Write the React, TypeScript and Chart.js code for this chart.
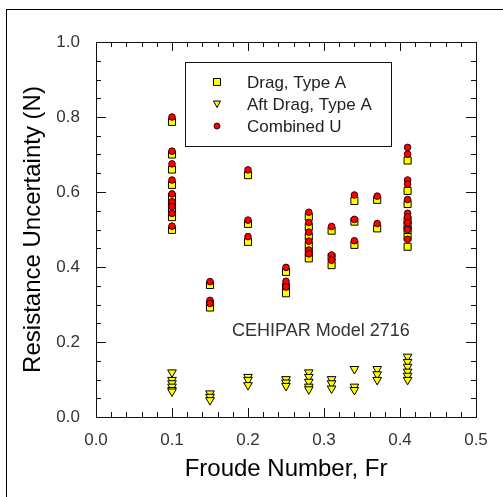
import React, { useEffect, useRef } from "react";
import { Chart, registerables } from "chart.js";

Chart.register(...registerables);

// Froude number groups
const froude = [0.1, 0.15, 0.2, 0.25, 0.28, 0.31, 0.34, 0.37, 0.41];

// Drag, Type A (squares), one list per Froude number
const dragTypeA: number[][] = [
  [0.787, 0.7, 0.66, 0.619, 0.587, 0.57, 0.553, 0.533, 0.499],
  [0.352, 0.301, 0.292],
  [0.645, 0.515, 0.467],
  [0.387, 0.347, 0.33],
  [0.534, 0.507, 0.481, 0.459, 0.44, 0.423],
  [0.497, 0.426, 0.405],
  [0.576, 0.521, 0.459],
  [0.579, 0.503],
  [0.684, 0.603, 0.568, 0.525, 0.51, 0.499, 0.48, 0.454],
];

// Aft Drag, Type A (down triangles)
const aftDragTypeA: number[][] = [
  [0.119, 0.099, 0.09, 0.081, 0.072, 0.068],
  [0.063, 0.054, 0.045],
  [0.107, 0.099, 0.085],
  [0.101, 0.092, 0.083],
  [0.119, 0.107, 0.094, 0.081, 0.074],
  [0.101, 0.09, 0.076],
  [0.128, 0.081, 0.072],
  [0.128, 0.114, 0.099],
  [0.161, 0.147, 0.134, 0.121, 0.11, 0.099],
];

// Combined U (red circles)
const combinedU: number[][] = [
  [0.8, 0.709, 0.675, 0.632, 0.595, 0.574, 0.561, 0.543, 0.509],
  [0.361, 0.311, 0.303],
  [0.659, 0.525, 0.481],
  [0.399, 0.362, 0.347],
  [0.546, 0.519, 0.493, 0.469, 0.445, 0.435],
  [0.508, 0.432, 0.418],
  [0.592, 0.527, 0.47],
  [0.589, 0.516],
  [0.719, 0.701, 0.632, 0.621, 0.58, 0.543, 0.533, 0.518, 0.5, 0.474],
];

const seriesLabels = ["Drag, Type A", "Aft Drag, Type A", "Combined U"];
const annotationText = "CEHIPAR Model 2716";
const annotationPos = { x: 0.296, y: 0.229 };
const xTitle = "Froude Number, Fr";
const yTitle = "Resistance Uncertainty (N)";

const FONT = '"Liberation Sans", Arial, Helvetica, sans-serif';

function toPoints(groups: number[][]) {
  const pts: { x: number; y: number }[] = [];
  groups.forEach((vals, i) => vals.forEach((v) => pts.push({ x: froude[i], y: v })));
  return pts;
}

const decorPlugin = {
  id: "decor",
  beforeDraw(chart: any) {
    const { ctx, width, height } = chart;
    ctx.save();
    ctx.fillStyle = "#fff";
    ctx.fillRect(0, 0, width, height);
    ctx.fillStyle = "#000";
    ctx.fillRect(6, 9, 1, height - 9);
    ctx.fillRect(6, 9, width - 6, 1);
    ctx.restore();
  },
  beforeDatasetsDraw(chart: any) {
    const { ctx, scales } = chart;
    const x = scales.x;
    const y = scales.y;
    ctx.save();
    ctx.font = `18px ${FONT}`;
    ctx.fillStyle = "#333";
    ctx.textAlign = "center";
    ctx.textBaseline = "middle";
    ctx.fillText(annotationText, x.getPixelForValue(annotationPos.x), y.getPixelForValue(annotationPos.y));
    ctx.restore();
  },
  afterDraw(chart: any) {
    const { ctx, chartArea, scales } = chart;
    const { left, right, top, bottom } = chartArea;
    const x = scales.x;
    const y = scales.y;
    ctx.save();
    ctx.strokeStyle = "#111";
    ctx.lineWidth = 1;
    ctx.strokeRect(Math.round(left) + 0.5, Math.round(top) + 0.5, Math.round(right - left), Math.round(bottom - top));
    ctx.beginPath();
    // x ticks (minor every 0.02, major every 0.1), inward on bottom and top
    for (let i = 1; i < 25; i++) {
      const v = i * 0.02;
      const px = Math.round(x.getPixelForValue(v)) + 0.5;
      const len = i % 5 === 0 ? 9 : 5;
      ctx.moveTo(px, bottom);
      ctx.lineTo(px, bottom - len);
      ctx.moveTo(px, top);
      ctx.lineTo(px, top + len);
    }
    // y ticks (minor every 0.05, major every 0.2), inward on left and right
    for (let i = 1; i < 20; i++) {
      const v = i * 0.05;
      const py = Math.round(y.getPixelForValue(v)) + 0.5;
      const len = i % 4 === 0 ? 10 : 5;
      ctx.moveTo(left, py);
      ctx.lineTo(left + len, py);
      ctx.moveTo(right, py);
      ctx.lineTo(right - len, py);
    }
    ctx.stroke();

    // legend box
    const bx = 185.5, by = 62.5, bw = 206, bh = 84;
    ctx.strokeRect(bx, by, bw, bh);
    const mx = 217;
    const rows = [82, 104, 126];
    ctx.font = `17px ${FONT}`;
    ctx.textAlign = "left";
    ctx.textBaseline = "middle";
    rows.forEach((ry, i) => {
      const ds = chart.data.datasets[i];
      ctx.fillStyle = ds.backgroundColor;
      ctx.strokeStyle = ds.borderColor;
      ctx.lineWidth = 1;
      ctx.beginPath();
      if (i === 0) {
        ctx.rect(mx - 3.5, ry - 3.5, 7, 7);
      } else if (i === 1) {
        ctx.moveTo(mx - 3.5, ry - 3);
        ctx.lineTo(mx + 3.5, ry - 3);
        ctx.lineTo(mx, ry + 3.5);
        ctx.closePath();
      } else {
        ctx.arc(mx, ry, 3, 0, Math.PI * 2);
      }
      ctx.fill();
      ctx.stroke();
      ctx.fillStyle = "#222";
      ctx.fillText(ds.label, 247, ry + 1);
    });
    ctx.restore();
  },
};

export default function App() {
  const ref = useRef<HTMLCanvasElement | null>(null);
  useEffect(() => {
    if (!ref.current) return;
    const chart = new Chart(ref.current, {
      type: "scatter",
      data: {
        datasets: [
          {
            label: seriesLabels[0],
            data: toPoints(dragTypeA),
            pointStyle: "rect",
            pointRadius: 5,
            backgroundColor: "#ffff00",
            borderColor: "#000",
            borderWidth: 1,
            order: 3,
          },
          {
            label: seriesLabels[1],
            data: toPoints(aftDragTypeA),
            pointStyle: "triangle",
            rotation: 180,
            pointRadius: 5,
            backgroundColor: "#ffff00",
            borderColor: "#000",
            borderWidth: 1,
            order: 2,
          },
          {
            label: seriesLabels[2],
            data: toPoints(combinedU),
            pointStyle: "circle",
            pointRadius: 3.3,
            backgroundColor: "#ff0000",
            borderColor: "#400000",
            borderWidth: 1,
            order: 1,
          },
        ],
      } as any,
      options: {
        animation: false,
        responsive: false,
        devicePixelRatio: 1,
        layout: { padding: { top: 42, right: 27, left: 0, bottom: 0 } },
        plugins: { legend: { display: false }, tooltip: { enabled: false } },
        scales: {
          x: {
            type: "linear",
            min: 0,
            max: 0.5,
            ticks: {
              stepSize: 0.1,
              callback: (v: any) => Number(v).toFixed(1),
              font: { size: 17, family: FONT },
              color: "#333",
              padding: 13,
              maxRotation: 0,
            },
            grid: { display: false, drawTicks: false },
            border: { display: false },
            title: {
              display: true,
              text: xTitle,
              font: { size: 24, family: FONT },
              color: "#000",
              padding: { top: 0, bottom: 13 },
            },
            afterFit: (s: any) => {
              s.height = 80;
            },
          },
          y: {
            type: "linear",
            min: 0,
            max: 1,
            ticks: {
              stepSize: 0.2,
              callback: (v: any) => Number(v).toFixed(1),
              font: { size: 17, family: FONT },
              color: "#333",
              padding: 16,
            },
            grid: { display: false, drawTicks: false },
            border: { display: false },
            title: {
              display: true,
              text: yTitle,
              font: { size: 24, family: FONT },
              color: "#000",
              padding: { top: 19, bottom: 0 },
            },
            afterFit: (s: any) => {
              s.width = 96;
            },
          },
        },
      } as any,
      plugins: [decorPlugin],
    });
    return () => chart.destroy();
  }, []);
  return (
    <div style={{ position: "absolute", left: 0, top: 0, width: 503, height: 497 }}>
      <canvas ref={ref} width={503} height={497} style={{ width: 503, height: 497, display: "block" }} />
    </div>
  );
}
